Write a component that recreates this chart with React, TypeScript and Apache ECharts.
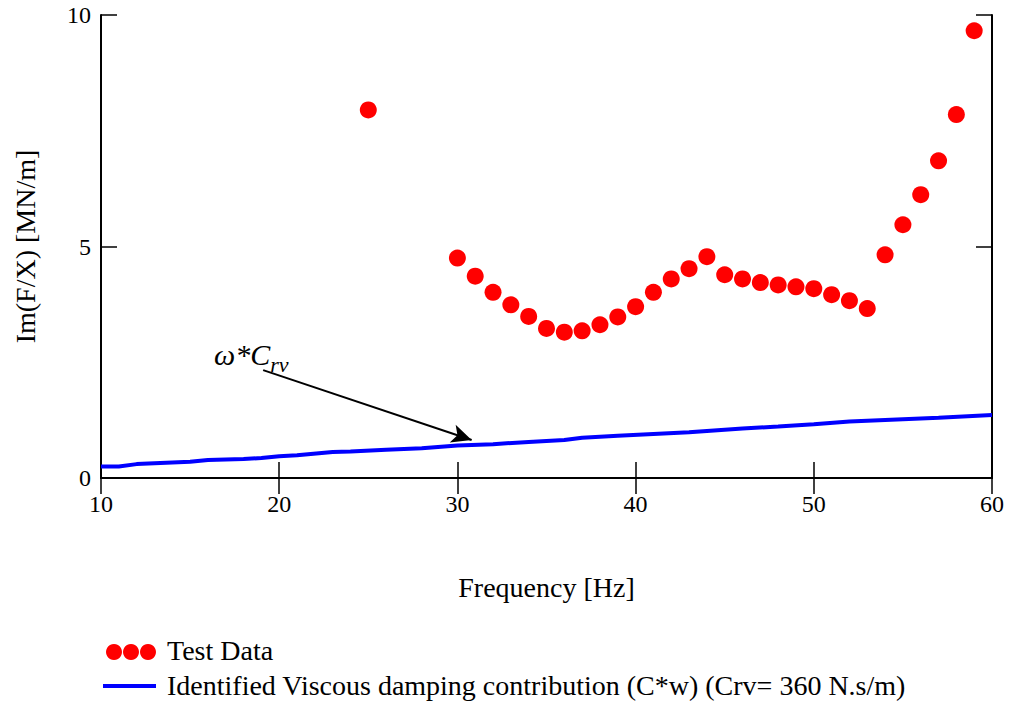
import React, { useEffect, useRef } from "react";
import * as echarts from "echarts";

// Test data: frequency [Hz] and Im(F/X) [MN/m]
const testFreq = [25, 30, 31, 32, 33, 34, 35, 36, 37, 38, 39, 40, 41, 42, 43, 44, 45, 46, 47, 48, 49, 50, 51, 52, 53, 54, 55, 56, 57, 58, 59];
const testVal = [7.95, 4.75, 4.36, 4.01, 3.74, 3.49, 3.23, 3.15, 3.18, 3.31, 3.48, 3.7, 4.01, 4.3, 4.52, 4.78, 4.39, 4.3, 4.22, 4.17, 4.13, 4.09, 3.96, 3.83, 3.66, 4.82, 5.47, 6.12, 6.85, 7.85, 9.66];

// Identified viscous damping contribution
const viscFreq = [10, 11, 12, 13, 15, 16, 18, 19, 20, 21, 23, 24, 26, 28, 30, 32, 34, 36, 37, 39, 41, 43, 46, 48, 50, 52, 55, 57, 60];
const viscVal = [0.25, 0.25, 0.3, 0.32, 0.35, 0.39, 0.41, 0.43, 0.47, 0.49, 0.56, 0.57, 0.61, 0.64, 0.7, 0.73, 0.78, 0.82, 0.87, 0.91, 0.95, 0.99, 1.07, 1.11, 1.16, 1.22, 1.27, 1.3, 1.36];

// Annotation arrow (data coordinates)
const arrowStart = [19.1, 2.33];
const arrowEnd = [30.8, 0.82];

const xTicks = { min: 10, max: 60, interval: 10 };
const yTicks = { min: 0, max: 10, interval: 5 };

const seriesNames = ["Test Data", "Identified Viscous damping contribution (C*w) (Crv= 360 N.s/m)"];

const FONT = "'Liberation Serif', 'Times New Roman', serif";

export default function App() {
  const ref = useRef<HTMLDivElement>(null);

  useEffect(() => {
    if (!ref.current) return;
    const chart = echarts.init(ref.current, undefined, { renderer: "svg" });
    const axisLine = { show: true, lineStyle: { color: "#000", width: 2 } };
    const tick = { show: true, inside: true, length: 16, lineStyle: { color: "#000", width: 1.5 } };
    chart.setOption({
      animation: false,
      backgroundColor: "#fff",
      textStyle: { fontFamily: FONT, color: "#000" },
      grid: { left: 101, right: 18, top: 15, bottom: 223, containLabel: false },
      xAxis: [
        {
          type: "value",
          min: xTicks.min,
          max: xTicks.max,
          interval: xTicks.interval,
          position: "bottom",
          axisLine,
          axisTick: tick,
          splitLine: { show: false },
          axisLabel: { color: "#000", fontSize: 24, fontFamily: FONT, margin: 14 },
          name: "Frequency [Hz]",
          nameLocation: "middle",
          nameGap: 95,
          nameTextStyle: { color: "#000", fontSize: 28, fontFamily: FONT },
        },
        {
          type: "value",
          min: xTicks.min,
          max: xTicks.max,
          interval: xTicks.interval,
          position: "top",
          axisLine,
          axisTick: tick,
          splitLine: { show: false },
          axisLabel: { show: false },
        },
      ],
      yAxis: [
        {
          type: "value",
          min: yTicks.min,
          max: yTicks.max,
          interval: yTicks.interval,
          position: "left",
          axisLine,
          axisTick: tick,
          splitLine: { show: false },
          axisLabel: { color: "#000", fontSize: 24, fontFamily: FONT, margin: 10 },
          name: "Im(F/X) [MN/m]",
          nameLocation: "middle",
          nameGap: 62,
          nameTextStyle: { color: "#000", fontSize: 28, fontFamily: FONT },
        },
        {
          type: "value",
          min: yTicks.min,
          max: yTicks.max,
          interval: yTicks.interval,
          position: "right",
          axisLine,
          axisTick: tick,
          splitLine: { show: false },
          axisLabel: { show: false },
        },
      ],
      series: [
        {
          name: seriesNames[1],
          type: "line",
          data: viscFreq.map((f, i) => [f, viscVal[i]]),
          showSymbol: false,
          smooth: false,
          lineStyle: { color: "#0000ff", width: 4 },
          z: 2,
          markLine: {
            silent: true,
            symbol: ["none", "arrow"],
            symbolSize: [14, 20],
            label: { show: false },
            lineStyle: { color: "#000", width: 2, type: "solid" },
            data: [[{ coord: arrowStart }, { coord: arrowEnd }]],
          },
        },
        {
          name: seriesNames[0],
          type: "scatter",
          data: testFreq.map((f, i) => [f, testVal[i]]),
          symbol: "circle",
          symbolSize: 17,
          itemStyle: { color: "#ff0000", opacity: 1 },
          z: 3,
        },
      ],
      graphic: [
        {
          type: "text",
          left: 214,
          top: 339,
          style: {
            text: "{a|ω*C}{b|rv}",
            rich: {
              a: { fontFamily: FONT, fontStyle: "italic", fontSize: 30, fill: "#000", verticalAlign: "bottom" },
              b: { fontFamily: FONT, fontStyle: "italic", fontSize: 22, fill: "#000", verticalAlign: "bottom", padding: [0, 0, -6, 0] },
            },
          },
        },
        // Legend
        { type: "circle", shape: { cx: 114, cy: 652, r: 8 }, style: { fill: "#ff0000" } },
        { type: "circle", shape: { cx: 131, cy: 652, r: 8 }, style: { fill: "#ff0000" } },
        { type: "circle", shape: { cx: 148, cy: 652, r: 8 }, style: { fill: "#ff0000" } },
        {
          type: "text",
          left: 167,
          top: 636,
          style: { text: seriesNames[0], fontFamily: FONT, fontSize: 28, fill: "#000" },
        },
        { type: "line", shape: { x1: 103, y1: 686, x2: 156, y2: 686 }, style: { stroke: "#0000ff", lineWidth: 4 } },
        {
          type: "text",
          left: 167,
          top: 671,
          style: { text: seriesNames[1], fontFamily: FONT, fontSize: 28, fill: "#000" },
        },
      ],
    });
    return () => chart.dispose();
  }, []);

  return <div ref={ref} style={{ position: "fixed", left: 0, top: 0, width: 1010, height: 701 }} />;
}
